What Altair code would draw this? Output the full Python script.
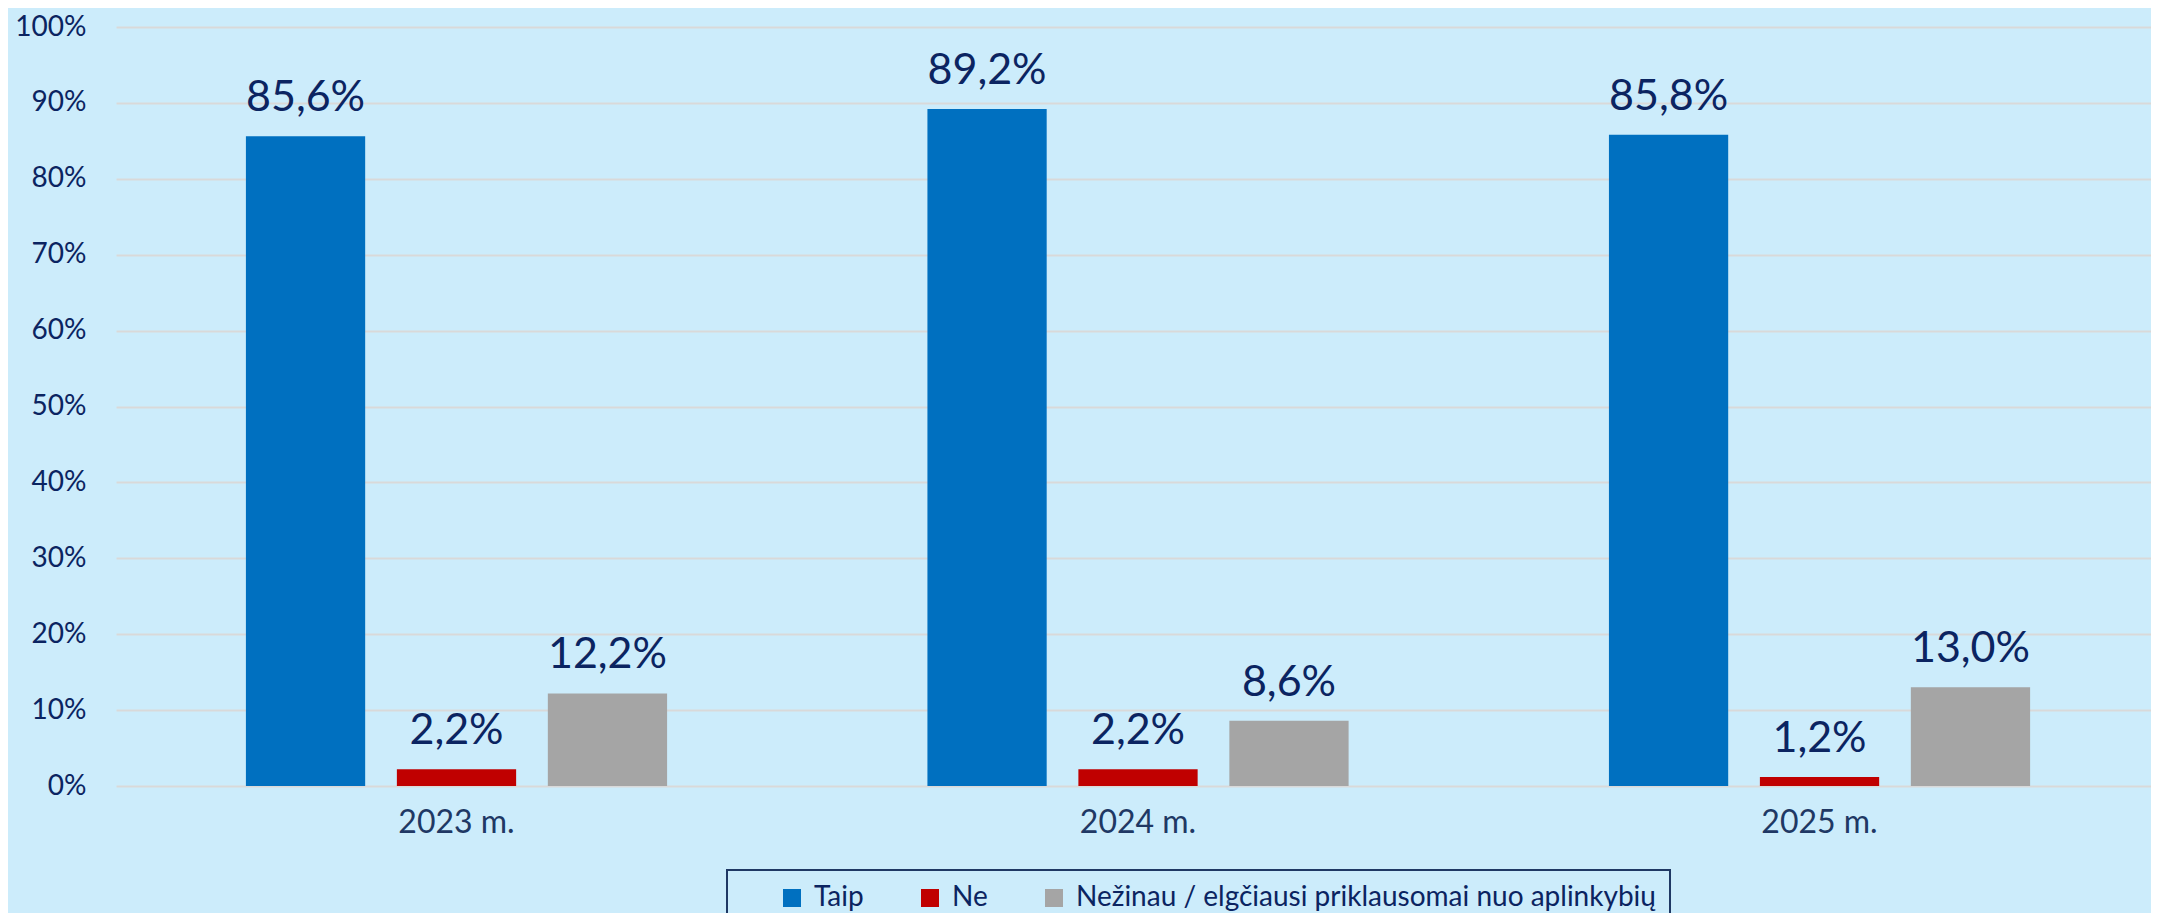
import altair as alt
import pandas as pd

years = ["2023 m.", "2024 m.", "2025 m."]
answers = ["Taip", "Ne", "Nežinau / elgčiausi priklausomai nuo aplinkybių"]
taip = [85.6, 89.2, 85.8]
ne = [2.2, 2.2, 1.2]
nezinau = [12.2, 8.6, 13.0]
colors = ["#0070C0", "#C00000", "#A5A5A5"]
y_ticks = [0, 10, 20, 30, 40, 50, 60, 70, 80, 90, 100]

rows = []
for series, vals in zip(answers, [taip, ne, nezinau]):
    for yr, v in zip(years, vals):
        rows.append({"year": yr, "answer": series, "value": v})
df = pd.DataFrame(rows)

FONT = "Lato"
NAVY = "#0B2461"
BG = "#CCECFB"

base = alt.Chart(df).encode(
    x=alt.X(
        "year:N",
        sort=years,
        scale=alt.Scale(paddingInner=0.382, paddingOuter=0.184, align=0.518),
        axis=alt.Axis(
            title=None, labelAngle=0, ticks=False, domain=False, grid=False,
            labelFont=FONT, labelFontSize=32, labelColor="#203864",
            labelPadding=21, labelBaseline="top",
        ),
    ),
    xOffset=alt.XOffset(
        "answer:N", sort=answers,
        scale=alt.Scale(paddingInner=0.21, paddingOuter=0),
    ),
    y=alt.Y(
        "value:Q",
        scale=alt.Scale(domain=[0, 100], nice=False),
        axis=alt.Axis(
            title=None, values=y_ticks, labelExpr="datum.value + '%'",
            ticks=False, domain=False, grid=True, gridColor="#D9D9D9",
            gridWidth=2, labelFont=FONT, labelFontSize=28, labelColor=NAVY,
            labelPadding=30,
        ),
    ),
)

bars = base.mark_bar().encode(
    color=alt.Color(
        "answer:N",
        sort=answers,
        scale=alt.Scale(domain=answers, range=colors),
        legend=alt.Legend(
            title=" ", titleOrient="left", titlePadding=37, titleFontSize=1,
            orient="none", legendX=611, legendY=843, direction="horizontal",
            symbolType="square", symbolSize=324, symbolStrokeWidth=0,
            labelFont=FONT, labelFontSize=28, labelColor=NAVY,
            labelOffset=8, columnPadding=52, padding=14,
            strokeColor="#1F3864", labelLimit=1000,
        ),
    )
)

text = base.mark_text(
    baseline="alphabetic", dy=-25, fontSize=43, font=FONT, color=NAVY
).transform_calculate(
    label="replace(format(datum.value, '.1f'), '.', ',') + '%'"
).encode(text="label:N")

chart = alt.layer(bars, text).properties(
    width=2035, height=759,
    background=BG,
    autosize=alt.AutoSizeParams(type="none"),
    padding={"left": 108, "top": 19, "right": 0, "bottom": 127},
).configure_view(stroke=None).configure_legend(strokeWidth=2)

chart.save("out.html", embed_options={"renderer": "svg", "actions": False})
